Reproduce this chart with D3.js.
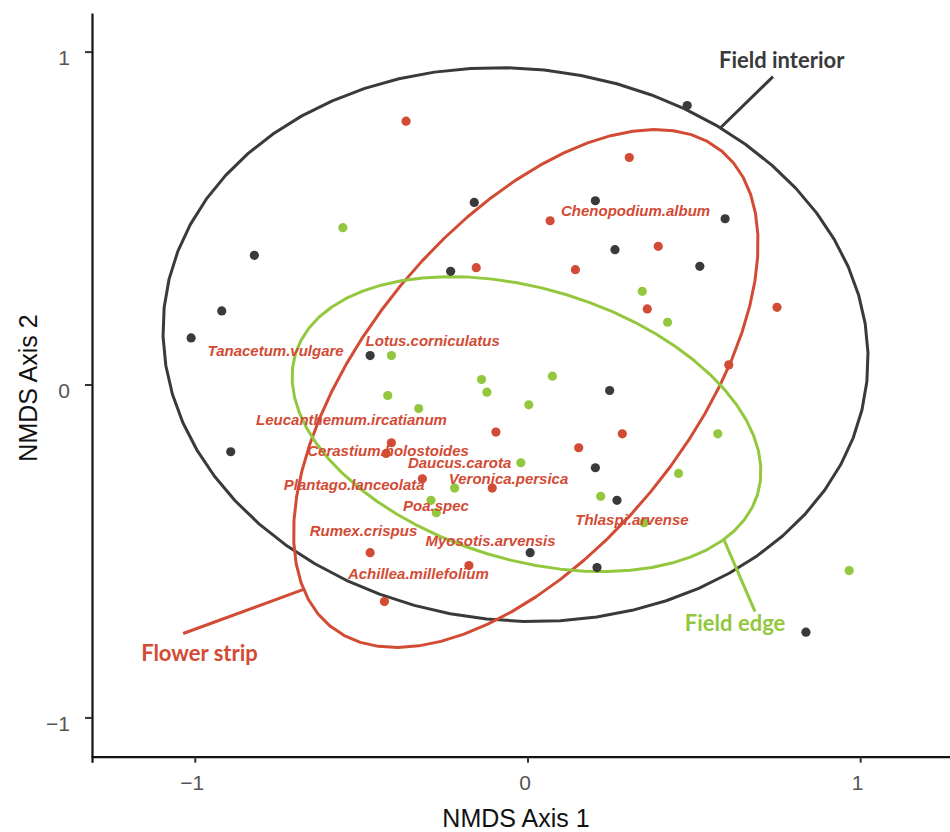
<!DOCTYPE html>
<html>
<head>
<meta charset="utf-8">
<script src="https://cdn.jsdelivr.net/npm/d3@7"></script>
<style>
  body { margin: 0; background: #fff; }
  .tick text { fill: #555; }
</style>
</head>
<body>
<svg class="chart"></svg>
<script>
// NMDS site scores per group
var interiorX = [0.480, 0.204, 0.594, 0.263, 0.518, -0.160, -0.821, -0.231, -0.919, -1.011, -0.473, 0.247, -0.892, 0.204, 0.269, 0.008, 0.209, 0.837];
var interiorY = [0.838, 0.552, 0.498, 0.405, 0.355, 0.547, 0.388, 0.340, 0.221, 0.140, 0.087, -0.018, -0.202, -0.250, -0.348, -0.505, -0.550, -0.744];

var stripX = [0.306, 0.068, 0.393, 0.144, 0.360, 0.750, -0.365, -0.154, -0.095, 0.154, -0.409, -0.425, -0.316, -0.106, -0.473, -0.176, -0.430, 0.605, 0.285];
var stripY = [0.682, 0.492, 0.415, 0.345, 0.227, 0.232, 0.791, 0.351, -0.143, -0.190, -0.175, -0.207, -0.283, -0.311, -0.505, -0.544, -0.652, 0.059, -0.148];

var edgeX = [0.345, 0.421, -0.555, -0.409, -0.138, 0.075, -0.122, -0.420, 0.004, -0.327, -0.020, -0.219, -0.290, -0.274, 0.572, 0.454, 0.220, 0.350, 0.967];
var edgeY = [0.280, 0.187, 0.471, 0.087, 0.015, 0.025, -0.023, -0.033, -0.061, -0.072, -0.235, -0.311, -0.348, -0.385, -0.148, -0.267, -0.336, -0.415, -0.559];

// group ellipses: centre, semi axes, rotation (degrees)
var groups = ["Field interior", "Flower strip", "Field edge"];
var ellCx = [-0.036, -0.005, -0.003];
var ellCy = [0.120, -0.012, -0.119];
var ellA = [1.062, 0.925, 0.726];
var ellB = [0.829, 0.487, 0.407];
var ellAngle = [-6, 50.5, -16.9];

// species scores
var species = ["Tanacetum.vulgare", "Lotus.corniculatus", "Leucanthemum.ircatianum", "Cerastium.holostoides",
  "Daucus.carota", "Plantago.lanceolata", "Veronica.persica", "Poa.spec", "Rumex.crispus",
  "Myosotis.arvensis", "Achillea.millefolium", "Chenopodium.album", "Thlaspi.arvense"];
var speciesX = [-0.757, -0.285, -0.529, -0.419, -0.204, -0.521, -0.057, -0.275, -0.493, -0.111, -0.328, 0.325, 0.314];
var speciesY = [0.102, 0.132, -0.105, -0.198, -0.234, -0.300, -0.282, -0.363, -0.438, -0.468, -0.569, 0.521, -0.407];

// group label positions and leader lines
var labelX = [0.764, -0.986, 0.624];
var labelY = [0.952, -0.830, -0.739];
var leadX1 = [0.738, -1.035, 0.590];
var leadY1 = [0.925, -0.748, -0.465];
var leadX2 = [0.578, -0.675, 0.684];
var leadY2 = [0.769, -0.616, -0.682];

var xTicks = [-1, 0, 1];
var yTicks = [-1, 0, 1];

var colors = ["#3a3a3a", "#d24b35", "#93c83e"];

var width = 950;
var height = 832;

var x = d3.scaleLinear()
    .domain([-1.309, 1.276])
    .range([92, 952]);

var y = d3.scaleLinear()
    .domain([-1.118, 1.116])
    .range([756.7, 13]);

var chart = d3.select(".chart")
    .attr("width", width)
    .attr("height", height)
    .style("font-family", "'Liberation Sans', Arial, sans-serif");

// axes
var xAxis = chart.append("g")
    .attr("transform", "translate(0,756.7)")
    .call(d3.axisBottom(x).tickValues(xTicks).tickSize(6).tickPadding(12)
      .tickFormat(function(d) { return d < 0 ? "\u2212" + Math.abs(d) : d; }));
xAxis.selectAll("text").attr("font-size", 21).attr("dx", "-3");

var yAxis = chart.append("g")
    .attr("transform", "translate(92,0)")
    .call(d3.axisLeft(y).tickValues(yTicks).tickSize(7).tickSizeOuter(0).tickPadding(15)
      .tickFormat(function(d) { return d < 0 ? "\u2212" + Math.abs(d) : d; }));
yAxis.selectAll("text").attr("font-size", 21).attr("dy", "0.62em");

chart.selectAll(".domain").attr("stroke", "#111").attr("stroke-width", 2.2);
chart.selectAll(".tick line").attr("stroke", "#333").attr("stroke-width", 2);

chart.append("text")
    .attr("x", 516)
    .attr("y", 827)
    .attr("text-anchor", "middle")
    .attr("font-size", 25)
    .attr("fill", "#111")
    .text("NMDS Axis 1");

chart.append("text")
    .attr("transform", "translate(37,388) rotate(-90)")
    .attr("text-anchor", "middle")
    .attr("font-size", 25)
    .attr("fill", "#111")
    .text("NMDS Axis 2");

// ellipses
var line = d3.line()
    .x(function(p) { return x(p[0]); })
    .y(function(p) { return y(p[1]); })
    .curve(d3.curveLinearClosed);

function ellipsePoints(i) {
  var pts = [];
  var th = ellAngle[i] * Math.PI / 180;
  for (var k = 0; k < 60; k++) {
    var t = k / 60 * 2 * Math.PI;
    var ex = ellA[i] * Math.cos(t), ey = ellB[i] * Math.sin(t);
    pts.push([ellCx[i] + ex * Math.cos(th) - ey * Math.sin(th),
              ellCy[i] + ex * Math.sin(th) + ey * Math.cos(th)]);
  }
  return pts;
}

chart.append("g").selectAll("path")
    .data(groups)
    .enter().append("path")
    .attr("d", function(d, i) { return line(ellipsePoints(i)); })
    .attr("fill", "none")
    .attr("stroke", function(d, i) { return colors[i]; })
    .attr("stroke-width", 3)
    .attr("stroke-linejoin", "round");

// leader lines
chart.append("g").selectAll("line")
    .data(groups)
    .enter().append("line")
    .attr("x1", function(d, i) { return x(leadX1[i]); })
    .attr("y1", function(d, i) { return y(leadY1[i]); })
    .attr("x2", function(d, i) { return x(leadX2[i]); })
    .attr("y2", function(d, i) { return y(leadY2[i]); })
    .attr("stroke", function(d, i) { return colors[i]; })
    .attr("stroke-width", 3);

// points
var sets = [[interiorX, interiorY], [stripX, stripY], [edgeX, edgeY]];
sets.forEach(function(s, g) {
  chart.append("g").selectAll("circle")
      .data(s[0])
      .enter().append("circle")
      .attr("cx", function(d) { return x(d); })
      .attr("cy", function(d, i) { return y(s[1][i]); })
      .attr("r", 4.6)
      .attr("fill", colors[g]);
});

// species names
chart.append("g").selectAll("text")
    .data(species)
    .enter().append("text")
    .attr("x", function(d, i) { return x(speciesX[i]); })
    .attr("y", function(d, i) { return y(speciesY[i]); })
    .attr("dy", "0.35em")
    .attr("text-anchor", "middle")
    .attr("font-size", 15)
    .attr("font-weight", "bold")
    .attr("font-style", "italic")
    .attr("fill", colors[1])
    .text(function(d) { return d; });

// group labels
chart.append("g").selectAll("text")
    .data(groups)
    .enter().append("text")
    .attr("x", function(d, i) { return x(labelX[i]); })
    .attr("y", function(d, i) { return y(labelY[i]); })
    .attr("text-anchor", "middle")
    .attr("font-family", "Lato, 'Open Sans', sans-serif")
    .attr("font-size", 22)
    .attr("font-weight", "bold")
    .attr("fill", function(d, i) { return colors[i]; })
    .text(function(d) { return d; });
</script>
</body>
</html>
